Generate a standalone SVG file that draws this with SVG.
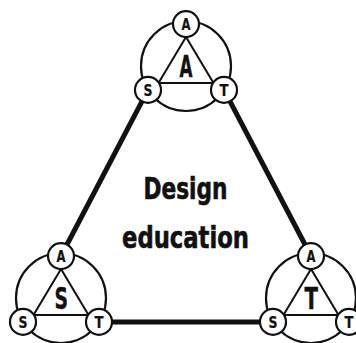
<svg xmlns="http://www.w3.org/2000/svg" xmlns:xlink="http://www.w3.org/1999/xlink" width="356" height="343" viewBox="0 0 356 343">
  <style>
    .link { stroke: #111; stroke-width: 5; stroke-linecap: butt; fill: none; }
    .ring { fill: none; stroke: #111; stroke-width: 2.2; }
    .tri { fill: none; stroke: #111; stroke-width: 2; stroke-linejoin: miter; }
    .dot { fill: #fff; stroke: #111; stroke-width: 2.2; }
    .lbl { font-family: "DejaVu Sans Condensed", "DejaVu Sans", sans-serif; font-weight: bold; fill: #111; stroke: #111; stroke-width: 0.4; }
    .small { font-size: 16.5px; stroke-width: 0.2; }
    .big { font-size: 30px; }
    .title { font-size: 31px; stroke-width: 0.6; }
  </style>
  <defs>
    <!-- shared frame of each cluster: outer ring, inner triangle, three node circles; origin at the centroid -->
    <g id="frame">
      <circle class="ring" cx="0" cy="-2" r="45"/>
      <polygon class="tri" points="0,-31 -27.5,14.9 27.5,14.9"/>
      <line class="tri" x1="-38" y1="14.9" x2="38" y2="14.9"/>
      <circle class="dot" cx="0" cy="-43.9" r="13"/>
      <circle class="dot" cx="-38" cy="21.9" r="13"/>
      <circle class="dot" cx="38" cy="21.9" r="13"/>
    </g>
  </defs>

  <rect width="356" height="343" fill="#fff"/>

  <!-- thick connectors between clusters -->
  <g id="connectors">
    <line class="link" x1="148" y1="89.9" x2="61" y2="256"/>
    <line class="link" x1="224" y1="89.9" x2="311" y2="256"/>
    <line class="link" x1="99" y1="322" x2="273" y2="322"/>
  </g>

  <!-- top cluster -->
  <g id="cluster-a" transform="translate(186,68)">
    <use xlink:href="#frame"/>
    <text class="lbl small" x="-4.5" y="-37.8" textLength="9" lengthAdjust="spacingAndGlyphs">A</text>
    <text class="lbl small" x="-42.5" y="28" textLength="9" lengthAdjust="spacingAndGlyphs">S</text>
    <text class="lbl small" x="33.5" y="28" textLength="9" lengthAdjust="spacingAndGlyphs">T</text>
    <text class="lbl big" x="-6.5" y="9" textLength="13" lengthAdjust="spacingAndGlyphs">A</text>
  </g>

  <!-- bottom-left cluster -->
  <g id="cluster-s" transform="translate(61,300)">
    <use xlink:href="#frame"/>
    <text class="lbl small" x="-4.5" y="-37.8" textLength="9" lengthAdjust="spacingAndGlyphs">A</text>
    <text class="lbl small" x="-42.5" y="28" textLength="9" lengthAdjust="spacingAndGlyphs">S</text>
    <text class="lbl small" x="33.5" y="28" textLength="9" lengthAdjust="spacingAndGlyphs">T</text>
    <text class="lbl big" x="-6.5" y="9" textLength="13.5" lengthAdjust="spacingAndGlyphs">S</text>
  </g>

  <!-- bottom-right cluster -->
  <g id="cluster-t" transform="translate(311,300)">
    <use xlink:href="#frame"/>
    <text class="lbl small" x="-4.5" y="-37.8" textLength="9" lengthAdjust="spacingAndGlyphs">A</text>
    <text class="lbl small" x="-42.5" y="28" textLength="9" lengthAdjust="spacingAndGlyphs">S</text>
    <text class="lbl small" x="33.5" y="28" textLength="9" lengthAdjust="spacingAndGlyphs">T</text>
    <text class="lbl big" x="-6.5" y="9" textLength="13.5" lengthAdjust="spacingAndGlyphs">T</text>
  </g>

  <!-- central title -->
  <g id="title">
    <text class="lbl title" x="143.5" y="199.3" textLength="84" lengthAdjust="spacingAndGlyphs">Design</text>
    <text class="lbl title" x="122" y="247.7" textLength="127" lengthAdjust="spacingAndGlyphs">education</text>
  </g>
</svg>
